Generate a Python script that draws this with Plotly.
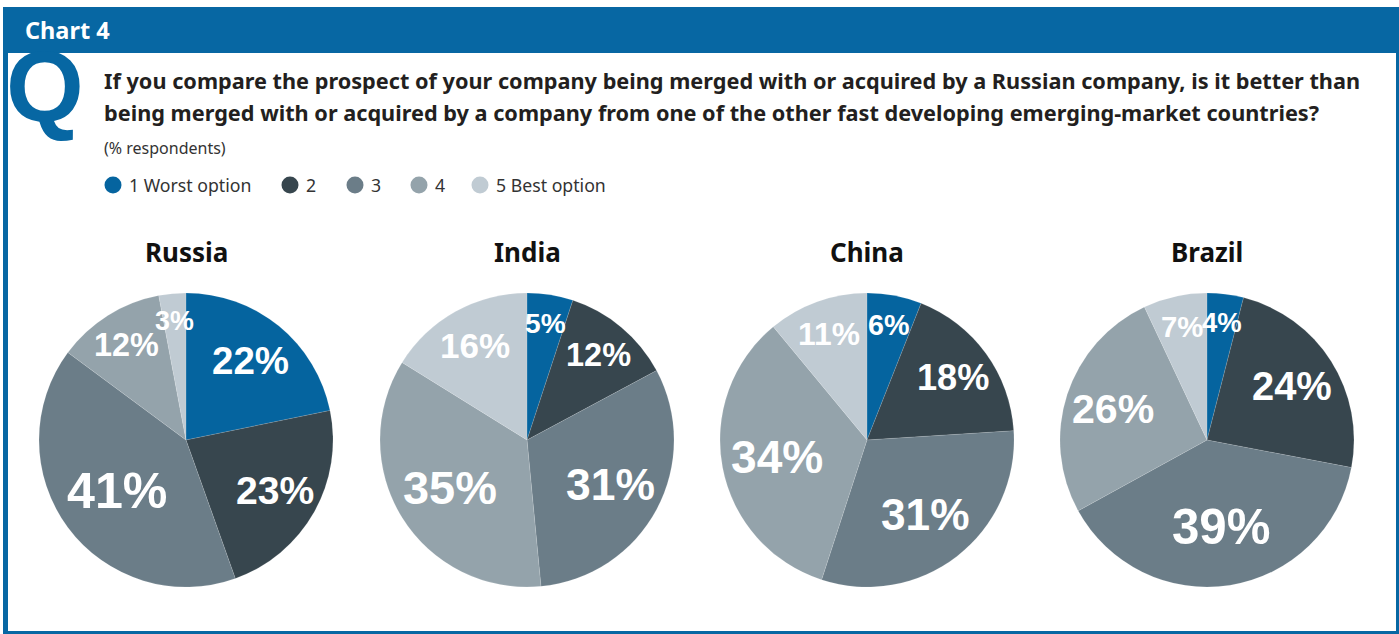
import math
import plotly.graph_objects as go

# ---- data ----
countries = ["Russia", "India", "China", "Brazil"]
options = ["1 Worst option", "2", "3", "4", "5 Best option"]
russia = [22, 23, 41, 12, 3]
india = [5, 12, 31, 35, 16]
china = [6, 18, 31, 34, 11]
brazil = [4, 24, 39, 26, 7]
series = [russia, india, china, brazil]

# ---- style ----
W, H = 1399, 634
BLUE = "#0767a3"
slice_colors = ["#05649f", "#37464e", "#6b7d88", "#94a3ab", "#c0cbd3"]
TEXT = "#231f20"
HEAD_FONT = "Noto Sans"
LABEL_FONT = "Liberation Sans, Arial, sans-serif"

pie_cx = [186, 527, 867, 1207]   # pie centres (px)
pie_cy = 440
pie_r = 147


def fx(x):
    return x / W


def fy(y):
    return 1 - y / H


fig = go.Figure()
annotations = []
shapes = []

for name, vals, cx in zip(countries, series, pie_cx):
    fig.add_trace(go.Pie(
        values=vals,
        labels=options,
        sort=False,
        direction="clockwise",
        rotation=0,
        marker=dict(colors=slice_colors, line=dict(color="rgba(255,255,255,0.3)", width=0.4)),
        textinfo="none",
        hoverinfo="label+percent",
        showlegend=False,
        domain=dict(x=[fx(cx - pie_r), fx(cx + pie_r)],
                    y=[fy(pie_cy + pie_r), fy(pie_cy - pie_r)]),
    ))
    # country title
    annotations.append(dict(
        x=fx(cx), y=fy(252), xref="paper", yref="paper",
        text=f"<b>{name}</b>", showarrow=False, xanchor="center", yanchor="middle",
        font=dict(family=HEAD_FONT, size=26, color="#111111"),
    ))
    # percentage labels placed along each slice's mid-angle
    total = sum(vals)
    start = 0.0
    for v in vals:
        f = v / total
        mid = (start + f / 2) * 2 * math.pi
        start += f
        dist = pie_r * (0.83 - 0.6 * f)
        lx = cx + dist * math.sin(mid)
        ly = pie_cy - dist * math.cos(mid)
        annotations.append(dict(
            x=fx(lx), y=fy(ly), xref="paper", yref="paper",
            text=f"<b>{v}%</b>", showarrow=False, xanchor="center", yanchor="middle",
            font=dict(family=LABEL_FONT, size=25 + 62 * f, color="white"),
        ))

# ---- frame and header band ----
shapes.append(dict(type="rect", xref="paper", yref="paper",
                   x0=fx(3), x1=1, y0=0, y1=fy(7),
                   fillcolor=BLUE, line=dict(width=0), layer="below"))
shapes.append(dict(type="rect", xref="paper", yref="paper",
                   x0=fx(8), x1=fx(1396), y0=fy(631), y1=fy(53),
                   fillcolor="white", line=dict(width=0), layer="below"))

annotations.append(dict(
    x=fx(23), y=fy(30), xref="paper", yref="paper", text="<b>Chart 4</b>",
    showarrow=False, xanchor="left", yanchor="middle",
    font=dict(family=HEAD_FONT, size=23.5, color="white"),
))
annotations.append(dict(
    x=fx(4), y=fy(86), xref="paper", yref="paper", text="<b>Q</b>",
    showarrow=False, xanchor="left", yanchor="middle",
    font=dict(family=LABEL_FONT, size=100, color=BLUE),
))

question = [
    "If you compare the prospect of your company being merged with or acquired by a Russian company, is it better than",
    "being merged with or acquired by a company from one of the other fast developing emerging-market countries?",
]
for i, line in enumerate(question):
    annotations.append(dict(
        x=fx(102), y=fy(80 + 32 * i), xref="paper", yref="paper", text=f"<b>{line}</b>",
        showarrow=False, xanchor="left", yanchor="middle",
        font=dict(family=HEAD_FONT, size=21.7, color=TEXT),
    ))
annotations.append(dict(
    x=fx(102), y=fy(148), xref="paper", yref="paper", text="(% respondents)",
    showarrow=False, xanchor="left", yanchor="middle",
    font=dict(family=HEAD_FONT, size=16, color="#333333"),
))

# ---- legend ----
legend_x = [113, 290, 355, 419, 480]
legend_y = 185
for lab, col, x in zip(options, slice_colors, legend_x):
    shapes.append(dict(type="circle", xref="paper", yref="paper",
                       x0=fx(x - 8.5), x1=fx(x + 8.5), y0=fy(legend_y + 8.5), y1=fy(legend_y - 8.5),
                       fillcolor=col, line=dict(width=0)))
    annotations.append(dict(
        x=fx(x + 14), y=fy(legend_y), xref="paper", yref="paper", text=lab,
        showarrow=False, xanchor="left", yanchor="middle",
        font=dict(family=HEAD_FONT, size=17.7, color="#333333"),
    ))

fig.update_layout(
    width=W, height=H,
    margin=dict(l=0, r=0, t=0, b=0),
    paper_bgcolor="white",
    plot_bgcolor="white",
    shapes=shapes,
    annotations=annotations,
)

fig.write_html("out.html")
